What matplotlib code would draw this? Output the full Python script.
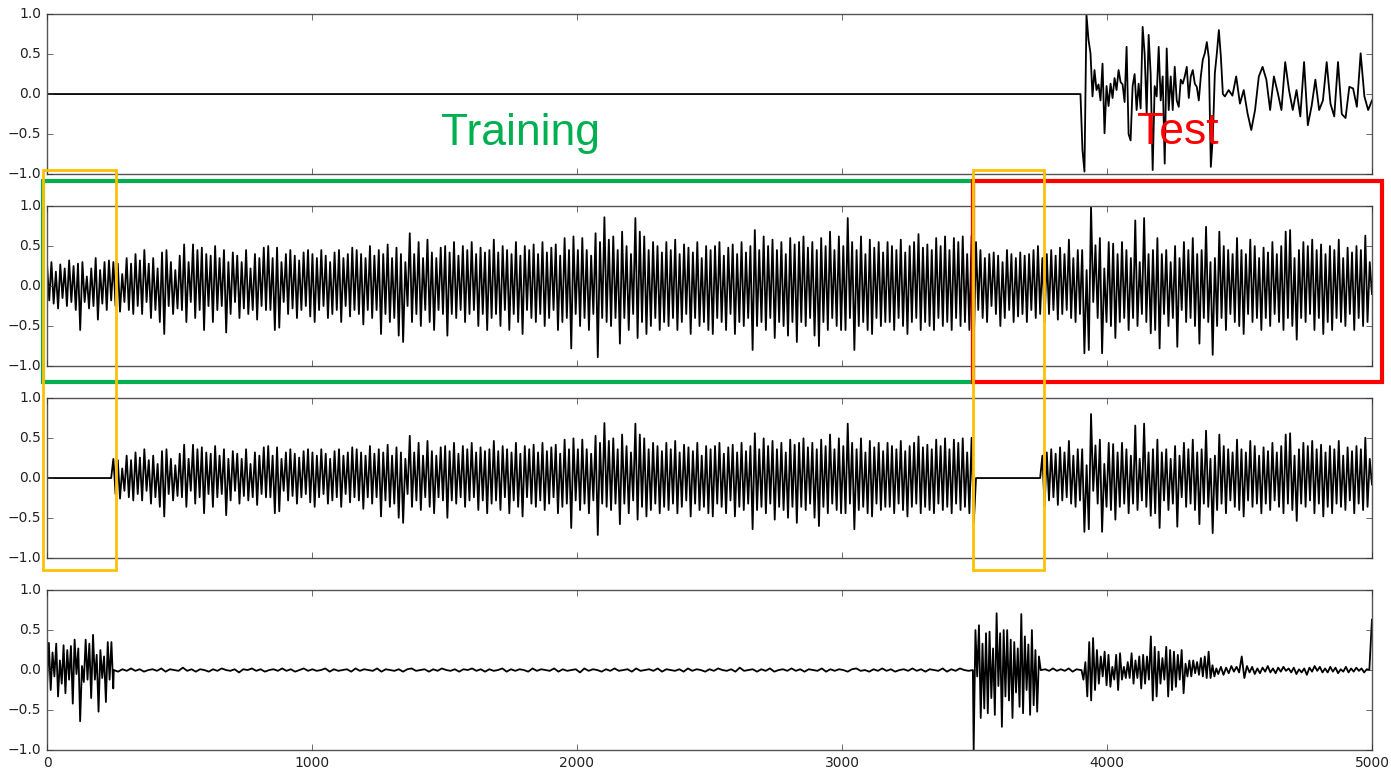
import numpy as np
import matplotlib.pyplot as plt
from matplotlib.patches import Rectangle
from matplotlib.transforms import blended_transform_factory

plt.style.use('classic')

n_samples = 5000
train_end = 3500
masks = [(0, 250), (3500, 3750)]

# panel 2: full mixture, alternating peak / trough values, evenly spaced over 0..5000
mixture = [
    0.28, -0.18, 0.30, -0.22, 0.18, -0.28, 0.27, -0.15, 0.22, -0.25, 0.32, -0.20, 0.25, -0.30, 0.28, -0.55, 0.30, -0.20, 0.12, -0.28,
    0.22, -0.25, 0.35, -0.42, 0.20, -0.22, 0.30, -0.30, 0.32, -0.18, 0.30, -0.25, 0.28, -0.32, 0.15, -0.20, 0.35, -0.30, 0.28, -0.35,
    0.40, -0.25, 0.32, -0.35, 0.45, -0.20, 0.28, -0.40, 0.35, -0.30, 0.22, -0.45, 0.42, -0.60, 0.45, -0.25, 0.30, -0.35, 0.20, -0.28,
    0.38, -0.30, 0.52, -0.45, 0.30, -0.20, 0.52, -0.40, 0.45, -0.30, 0.48, -0.55, 0.40, -0.25, 0.38, -0.45, 0.50, -0.30, 0.35, -0.25,
    0.45, -0.58, 0.30, -0.35, 0.42, -0.20, 0.38, -0.40, 0.30, -0.28, 0.45, -0.35, 0.22, -0.30, 0.40, -0.42, 0.35, -0.25, 0.48, -0.30,
    0.50, -0.30, 0.35, -0.55, 0.48, -0.52, 0.30, -0.20, 0.40, -0.35, 0.45, -0.28, 0.38, -0.40, 0.32, -0.30, 0.42, -0.25, 0.45, -0.38,
    0.40, -0.45, 0.35, -0.30, 0.45, -0.25, 0.38, -0.40, 0.30, -0.35, 0.42, -0.30, 0.45, -0.45, 0.35, -0.25, 0.40, -0.38, 0.48, -0.30,
    0.45, -0.35, 0.40, -0.48, 0.35, -0.30, 0.50, -0.40, 0.38, -0.30, 0.45, -0.60, 0.40, -0.35, 0.52, -0.45, 0.35, -0.40, 0.48, -0.62,
    0.40, -0.70, 0.30, -0.25, 0.66, -0.45, 0.40, -0.35, 0.55, -0.50, 0.35, -0.30, 0.58, -0.45, 0.42, -0.55, 0.35, -0.30, 0.48, -0.35,
    0.50, -0.62, 0.42, -0.35, 0.55, -0.40, 0.38, -0.30, 0.50, -0.45, 0.45, -0.35, 0.55, -0.30, 0.40, -0.50, 0.48, -0.35, 0.42, -0.55,
    0.45, -0.40, 0.58, -0.35, 0.42, -0.50, 0.50, -0.30, 0.45, -0.55, 0.40, -0.35, 0.55, -0.45, 0.38, -0.60, 0.50, -0.30, 0.45, -0.40,
    0.52, -0.45, 0.40, -0.35, 0.55, -0.50, 0.42, -0.40, 0.48, -0.30, 0.52, -0.55, 0.38, -0.45, 0.60, -0.40, 0.45, -0.78, 0.62, -0.35,
    0.45, -0.50, 0.60, -0.40, 0.45, -0.55, 0.38, -0.35, 0.66, -0.89, 0.55, -0.40, 0.86, -0.45, 0.58, -0.50, 0.62, -0.40, 0.45, -0.72,
    0.68, -0.40, 0.50, -0.55, 0.40, -0.35, 0.85, -0.65, 0.68, -0.45, 0.62, -0.60, 0.45, -0.50, 0.55, -0.40, 0.50, -0.55, 0.42, -0.45,
    0.55, -0.50, 0.45, -0.40, 0.58, -0.55, 0.40, -0.45, 0.52, -0.35, 0.48, -0.60, 0.42, -0.40, 0.55, -0.50, 0.35, -0.45, 0.50, -0.55,
    0.45, -0.60, 0.50, -0.40, 0.55, -0.45, 0.38, -0.55, 0.48, -0.35, 0.52, -0.60, 0.40, -0.45, 0.55, -0.50, 0.42, -0.40, 0.50, -0.80,
    0.70, -0.50, 0.45, -0.45, 0.62, -0.55, 0.50, -0.40, 0.58, -0.65, 0.45, -0.45, 0.55, -0.50, 0.40, -0.62, 0.60, -0.45, 0.52, -0.70,
    0.55, -0.45, 0.62, -0.50, 0.48, -0.40, 0.55, -0.62, 0.45, -0.75, 0.60, -0.45, 0.50, -0.55, 0.68, -0.40, 0.45, -0.50, 0.62, -0.55,
    0.50, -0.55, 0.85, -0.40, 0.55, -0.80, 0.45, -0.50, 0.62, -0.45, 0.40, -0.55, 0.58, -0.60, 0.48, -0.40, 0.55, -0.50, 0.42, -0.45,
    0.55, -0.45, 0.50, -0.55, 0.45, -0.40, 0.58, -0.50, 0.42, -0.60, 0.50, -0.45, 0.55, -0.40, 0.65, -0.55, 0.48, -0.45, 0.52, -0.50,
    0.45, -0.55, 0.60, -0.40, 0.50, -0.50, 0.62, -0.45, 0.45, -0.55, 0.60, -0.40, 0.55, -0.50, 0.62, -0.45, 0.40, -0.55, 0.63, -0.70,
    0.55, -0.30, 0.45, -0.40, 0.35, -0.45, 0.40, -0.25, 0.42, -0.35, 0.38, -0.50, 0.30, -0.40, 0.45, -0.30, 0.40, -0.45, 0.35, -0.38,
    0.42, -0.35, 0.38, -0.45, 0.40, -0.30, 0.45, -0.40, 0.50, -0.35, 0.35, -0.45, 0.40, -0.35, 0.45, -0.30, 0.38, -0.42, 0.48, -0.35,
    0.40, -0.30, 0.58, -0.40, 0.35, -0.45, 0.45, -0.35, 0.45, -0.84, 0.20, -0.80, 1.00, -0.20, 0.51, -0.40, 0.60, -0.84, 0.22, -0.45,
    0.55, -0.50, 0.53, -0.65, 0.40, -0.45, 0.55, -0.40, 0.45, -0.55, 0.35, -0.40, 0.82, -0.50, 0.30, -0.35, 0.85, -0.45, 0.40, -0.59,
    0.45, -0.55, 0.60, -0.78, 0.40, -0.35, 0.45, -0.50, 0.30, -0.40, 0.50, -0.76, 0.35, -0.30, 0.55, -0.45, 0.45, -0.40, 0.60, -0.50,
    0.40, -0.72, 0.45, -0.40, 0.74, -0.45, 0.30, -0.86, 0.35, -0.50, 0.68, -0.40, 0.50, -0.55, 0.45, -0.35, 0.40, -0.45, 0.60, -0.50,
    0.45, -0.60, 0.40, -0.35, 0.58, -0.45, 0.50, -0.40, 0.35, -0.55, 0.48, -0.40, 0.42, -0.50, 0.55, -0.35, 0.40, -0.45, 0.50, -0.55,
    0.68, -0.40, 0.70, -0.50, 0.35, -0.67, 0.45, -0.40, 0.55, -0.45, 0.50, -0.35, 0.58, -0.55, 0.45, -0.40, 0.52, -0.60, 0.40, -0.45,
    0.50, -0.55, 0.45, -0.40, 0.58, -0.45, 0.35, -0.50, 0.48, -0.35, 0.42, -0.55, 0.50, -0.40, 0.45, -0.50, 0.63, -0.45, 0.30, -0.10,
]
masked_gain = 0.8

# panel 1: the second source, silent until ~3900
source_a = [
    0.00, -0.70, -0.97, 0.99, 0.68, 0.51, -0.03, 0.30, 0.05, 0.12, -0.08, 0.38, -0.49, 0.10, -0.15, 0.13, -0.05, 0.20, 0.05, 0.30,
    0.15, 0.12, -0.10, 0.59, -0.50, -0.58, 0.10, 0.25, -0.20, 0.13, -0.18, 0.84, 0.50, -0.24, 0.74, 0.25, -0.95, 0.10, -0.03, 0.59,
    -0.08, 0.22, -0.87, 0.57, -0.20, 0.22, -0.20, 0.34, -0.08, -0.16, 0.18, 0.13, 0.22, 0.34, -0.05, 0.22, 0.30, 0.13, 0.09, -0.08,
    0.22, 0.43, 0.51, 0.65, 0.45, -0.91, -0.53, 0.26, 0.51, 0.80, 0.47, 0.00, -0.03,
]
source_b = [
    -0.03, 0.05, -0.02, 0.22, -0.12, 0.05, -0.24, -0.45, -0.20, 0.22, 0.34, 0.18, -0.20, 0.22, 0.02, -0.20, 0.40, 0.05, -0.20, 0.05,
    -0.28, 0.40, -0.39, -0.15, 0.18, -0.20, -0.08, 0.40, -0.12, -0.28, 0.40, -0.25, -0.30, 0.09, 0.07, -0.16, 0.51, -0.03, -0.20, -0.08,
]

# panel 4: separated output, masked stretches plus residual
sep_mask1 = [
    -0.20, 0.34, -0.25, 0.22, -0.08, 0.33, -0.33, 0.12, -0.17, 0.31, -0.29, 0.25, -0.12, 0.30, -0.42, 0.38, -0.05, 0.27, -0.64, 0.05,
    -0.15, 0.38, -0.12, 0.33, -0.35, 0.44, -0.12, 0.19, -0.52, 0.25, -0.10, 0.17, -0.40, 0.35, -0.12, 0.35, -0.23,
]
sep_mask2 = [
    -1.00, 0.50, -0.08, 0.56, -0.60, 0.33, -0.48, 0.46, -0.54, 0.48, -0.35, 0.27, -0.56, 0.71, -0.20, 0.46, -0.71, 0.50, -0.33, 0.50,
    -0.38, 0.38, -0.60, 0.35, -0.28, 0.27, -0.46, 0.70, -0.54, 0.42, -0.25, 0.32, -0.56, 0.50, -0.44, 0.25, -0.52, 0.17, 0.00,
]
resid_train = [
    0.00, -0.02, 0.01, -0.01, 0.02, -0.01, 0.01, -0.02, 0.00, 0.01, -0.01, 0.02, -0.02, 0.01, 0.00, -0.01, 0.03, -0.01, 0.01, -0.02,
    0.01, 0.00, -0.02, 0.01, -0.01, 0.02, 0.00, -0.01, 0.01, -0.03, 0.01, 0.00, 0.02, -0.01, 0.01, -0.02, 0.00, 0.01, -0.01, 0.02,
    -0.01, 0.01, -0.02, 0.00, 0.02, -0.01, 0.01, -0.01, 0.00, 0.02, -0.02, 0.01, -0.01, 0.00, 0.01, -0.02, 0.02, -0.01, 0.01, 0.00,
    -0.01, 0.02, -0.02, 0.01, 0.00, -0.01, 0.01, -0.02, 0.01, 0.02, -0.01, 0.00, 0.01, -0.02, 0.01, -0.01, 0.02, 0.00, -0.01, 0.01,
    -0.02, 0.01, 0.00, 0.02, -0.01, 0.01, -0.02, 0.01, -0.01, 0.00, 0.02, -0.02, 0.01, -0.01, 0.01, 0.00, -0.02, 0.02, -0.01, 0.01,
    0.00, -0.01, 0.02, -0.02, 0.01, -0.01, 0.00, 0.01, -0.03, 0.02, -0.01, 0.01, 0.00, -0.02, 0.01, -0.01, 0.02, -0.01, 0.00, 0.01,
    -0.02, 0.02, -0.01, 0.00, 0.01, -0.01, 0.02, -0.02, 0.01, 0.00, -0.01, 0.01, -0.02, 0.02, -0.01, 0.01, 0.00, -0.02, 0.01, -0.01,
    0.02, 0.00, -0.01, 0.01, -0.02, 0.03, -0.01, 0.00, 0.01, -0.02, 0.01, -0.01, 0.02, -0.02, 0.00, 0.01, -0.01, 0.02, -0.01, 0.01,
    -0.02, 0.01, 0.00, -0.01, 0.02, -0.02, 0.01, -0.01, 0.01, 0.00, -0.02, 0.01, 0.02, -0.01, 0.00, -0.02, 0.01, -0.01, 0.02, -0.01,
    0.01, -0.02, 0.00, 0.01, -0.01, 0.02, -0.01, 0.01, -0.02, 0.01, 0.00, -0.01, 0.02, -0.02, 0.01, -0.01, 0.02, 0.00, -0.01, 0.00,
]
resid_gap = [0.00, 0.01, -0.01, 0.02, -0.01, 0.01, -0.01, 0.02, -0.02, 0.01, 0.00]
resid_burst = [
    0.00, -0.12, 0.10, -0.33, 0.35, -0.38, 0.40, -0.25, 0.25, -0.17, 0.17, -0.08, 0.23, -0.19, 0.19, -0.21, 0.04, -0.12, 0.19, -0.25,
    0.21, -0.12, 0.04, -0.10, 0.10, -0.10, 0.21, -0.17, 0.12, -0.10, 0.17, -0.23, 0.19, -0.17, 0.17, -0.12, 0.42, -0.38, 0.29, -0.33,
    0.23, -0.17, 0.15, -0.12, 0.29, -0.33, 0.25, -0.25, 0.23, -0.21, 0.19, -0.12, 0.25, -0.29, 0.08, -0.08, 0.12, -0.08, 0.12, -0.04,
    0.10, -0.06, 0.15, -0.08, 0.17, -0.10, 0.23, -0.10, 0.06, -0.08, 0.02, -0.05,
]
resid_tail = [
    0.04, -0.06, 0.03, -0.04, 0.05, -0.02, 0.04, -0.03, 0.17, -0.10, 0.05, -0.03, 0.04, -0.05, 0.02, -0.04, 0.03, -0.02, 0.05, -0.03,
    0.02, -0.04, 0.03, -0.02, 0.04, -0.01, 0.02, -0.03, 0.03, -0.05, 0.01, -0.03, 0.02, -0.06, 0.03, -0.02, 0.05, -0.01, 0.04, -0.03,
    0.02, -0.03, 0.04, -0.02, 0.03, -0.04, 0.01, -0.02, 0.04, -0.03, 0.02, -0.02, 0.03, -0.01, 0.02, -0.03, 0.01, 0.00, 0.63,
]


def trace(vals, start, stop):
    return np.linspace(start, stop, len(vals)), np.asarray(vals, dtype=float)


def join(*parts):
    xs = np.concatenate([p[0] for p in parts])
    ys = np.concatenate([p[1] for p in parts])
    return xs, ys


x_mix, y_mix = trace(mixture, 0, n_samples)

y_masked = y_mix * masked_gain
for lo, hi in masks:
    y_masked[(x_mix >= lo) & (x_mix <= hi)] = 0.0

x_src, y_src = join(trace([0.0, 0.0], 0, 3900),
                    trace(source_a, 3900, 4445),
                    trace(source_b, 4445, n_samples))

x_sep, y_sep = join(trace(sep_mask1, 0, 250),
                    trace(resid_train, 252, 3494),
                    trace(sep_mask2, 3497, 3750),
                    trace(resid_gap, 3752, 3900),
                    trace(resid_burst, 3904, 4420),
                    trace(resid_tail, 4430, n_samples))

fig = plt.figure(figsize=(13.91, 7.68), dpi=100, facecolor='white')
left, width, height = 0.0338, 0.9525, 0.2083
bottoms = [0.7734, 0.5234, 0.2734, 0.0234]
series = [(x_src, y_src), (x_mix, y_mix), (x_mix, y_masked), (x_sep, y_sep)]

axes = []
for i, (b, (xs, ys)) in enumerate(zip(bottoms, series)):
    ax = fig.add_axes([left, b, width, height])
    ax.plot(xs, ys, color='black', lw=1.3)
    ax.set_xlim(0, n_samples)
    ax.set_ylim(-1, 1)
    ax.set_xticks(np.arange(0, n_samples + 1, 1000))
    ax.set_yticks([-1.0, -0.5, 0.0, 0.5, 1.0])
    ax.tick_params(labelsize=10, direction='in', length=4, colors='#333333', labelcolor='#222222')
    for sp in ax.spines.values():
        sp.set_color('#555555')
    if i < 3:
        ax.set_xticklabels([])
    axes.append(ax)

# boxes: x in samples, y in figure fraction
trans = blended_transform_factory(axes[0].transData, fig.transFigure)
pad = 15
split = train_end - 6
box_lo, box_hi = 1 - 382 / 768, 1 - 181 / 768
fig.add_artist(Rectangle((-pad, box_lo), split + pad, box_hi - box_lo, transform=trans,
                         fill=False, ec='#00b050', lw=3, clip_on=False))
fig.add_artist(Rectangle((split, box_lo), n_samples + 38 - split, box_hi - box_lo, transform=trans,
                         fill=False, ec='#ff0000', lw=3, clip_on=False))
mask_lo, mask_hi = 1 - 570 / 768, 1 - 170 / 768
for lo, hi in masks:
    x0 = lo - pad if lo == 0 else lo - 6
    fig.add_artist(Rectangle((x0, mask_lo), hi + 12 - x0, mask_hi - mask_lo, transform=trans,
                             fill=False, ec='#ffc000', lw=2, clip_on=False))

fig.text(520 / 1391, 1 - 133 / 768, 'Training', color='#00b050', fontsize=32,
         family='Liberation Sans', ha='center', va='center')
fig.text(1178 / 1391, 1 - 133 / 768, 'Test', color='#ff0000', fontsize=32,
         family='Liberation Sans', ha='center', va='center')

fig.savefig('out.png', dpi=100, facecolor='white')
